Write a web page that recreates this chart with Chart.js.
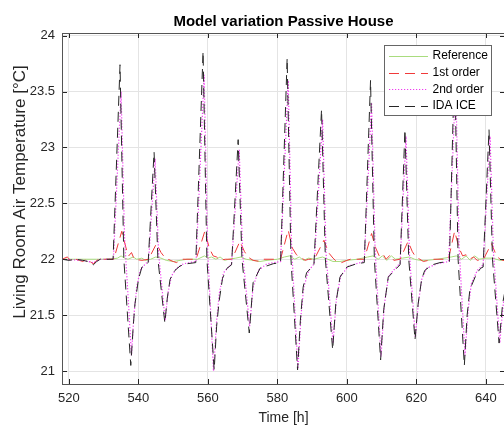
<!DOCTYPE html>
<html>
<head>
<meta charset="utf-8">
<script src="https://cdn.jsdelivr.net/npm/chart.js@4/dist/chart.umd.min.js"></script>
<style>
  html, body { margin: 0; padding: 0; background: #fff; overflow: hidden; width: 504px; height: 429px; }
  canvas { display: block; }
</style>
</head>
<body>
<canvas id="c" width="510" height="429"></canvas>
<script>
// Axis ticks
const xTicks = [520, 540, 560, 580, 600, 620, 640];
const yTicks = [21, 21.5, 22, 22.5, 23, 23.5, 24];

// Series names (legend order)
const seriesNames = ['Reference', '1st order', '2nd order', 'IDA ICE'];

// Reference model: living room air temperature [°C] vs time [h]
const refTime = [518,528,532,534,535,536,537,538.5,539.5,541,
  542,543.5,545,546.5,548,550,552,554,557,559,
  560,561,562.3,563.5,564.8,566,568,569.5,571,573,
  575,577,580,582,583.5,585,586.3,587.5,589,590.5,
  593,594.5,596,598,600,603,606,607.5,609,610.2,
  611.5,612.8,614,616,618,619.5,621,623,626,630,
  631.5,633,634.3,635.5,636.8,638,640,642,644,648];
const refTemp = [22.0,22.0,22.0,22.01,22.03,22.01,22.0,22.02,22.0,22.01,
  21.99,22.0,22.02,22.01,21.99,21.98,21.99,22.0,22.0,22.03,
  22.01,22.02,22.0,22.02,21.99,22.0,22.01,22.02,22.0,21.99,
  21.98,21.99,22.0,22.02,22.03,22.0,22.02,21.99,22.01,22.0,
  22.02,22.0,21.98,21.98,21.99,22.0,22.02,22.03,22.0,22.03,
  21.99,22.03,22.0,22.01,22.02,22.0,21.99,21.99,22.0,22.02,
  22.03,22.0,22.03,21.99,22.03,22.0,22.01,22.01,21.99,22.0];

// 1st order model
const firstTime = [518,519.5,520.5,522,523,524,525,526,527,528,529,532.9,535.2,536.6,537.2,538,538.8,541,542.9,
  545.2,546.5,547.5,548.5,550,551,552.5,556.6,
  559.1,560.4,561.5,562.5,563.5,565,566.9,
  569.2,570.5,571.5,573,575,576,580.9,
  583.1,584.3,585.5,586.5,588,589,590.6,
  593.4,594.7,596,597,598.5,600,601,605,
  607.1,608.3,609.3,610.3,611.3,612.5,613.5,615.3,
  617.6,618.8,619.8,621,622,623.5,625,629.2,
  631,632.3,633.3,634.3,635.3,636.5,637.5,639.3,
  641.6,642.8,644,646,648];
const firstTemp = [22.0,22.02,21.99,22.0,21.99,21.98,22.0,21.98,21.96,21.99,22.0,22.0,22.25,22.08,22.03,22.06,22.0,21.99,22.0,
  22.14,22.06,22.02,22.0,21.98,21.97,22.0,22.0,
  22.25,22.1,22.03,22.02,21.99,22.0,22.0,
  22.16,22.07,22.02,21.99,21.98,22.0,22.0,
  22.26,22.1,22.04,22.02,21.99,22.0,22.0,
  22.17,22.06,22.01,21.98,21.97,21.99,22.0,22.0,
  22.23,22.1,22.03,22.05,22.0,22.04,21.99,22.0,
  22.16,22.07,22.02,22.0,21.98,21.99,22.0,22.0,
  22.25,22.1,22.03,22.04,22.0,22.02,21.99,22.0,
  22.14,22.05,22.0,21.98,22.0];

// 2nd order model
const secondTime = [518,524,527,529,532.8,535.0,536.0,538.0,538.7,539.5,540.5,542,542.9,
  544.8,545.8,547.7,548.5,549.5,551,553,556.6,
  558.9,559.9,561.6,562.5,563.3,564.5,566.8,
  569.0,570.0,572.0,573,574.5,577,580.9,
  583.1,584.1,585.9,586.8,587.6,589,590.6,
  593.0,594.0,596.0,597,598.2,600.5,605,
  607.1,608.1,609.8,610.8,612,614.5,615.3,
  617.0,618,619.7,620.6,621.6,623,626,629.3,
  631.3,632.3,634.0,634.9,635.8,637.5,639.2,
  641.2,642.2,644.0,645,646,648];
const secondTemp = [22.0,21.99,21.97,22.0,22.0,23.5,22.2,21.14,21.5,21.75,21.9,21.96,21.98,
  22.9,22.05,21.45,21.7,21.85,21.92,21.96,21.98,
  23.65,22.1,21.0,21.45,21.7,21.88,21.96,
  22.98,22.05,21.4,21.75,21.9,21.96,21.98,
  23.6,22.1,21.02,21.5,21.75,21.9,21.96,
  23.25,22.05,21.25,21.65,21.85,21.94,21.98,
  23.4,22.1,21.13,21.6,21.85,21.94,21.96,
  23.1,22.05,21.3,21.62,21.83,21.92,21.96,21.98,
  23.6,22.1,21.14,21.55,21.78,21.9,21.95,
  23.1,22.05,21.25,21.6,21.78,21.9];

// IDA ICE simulation
const idaTime = [518,520,522,524,525.5,527,528,529,532.7,534.7,535.8,537.8,538.5,539,540,541,542.8,
  544.5,545.6,547.6,548.3,549.1,550.5,552,554,556.5,
  558.6,559.7,561.8,562.5,563.2,564.2,565.5,566.8,
  568.7,569.8,571.9,573.0,575,578.8,580.9,
  582.8,583.9,585.8,586.6,587.4,588.4,590.5,
  592.7,593.8,595.9,596.8,598,600,602.8,605,
  606.8,607.9,609.7,610.6,611.9,614.3,615.3,
  616.7,617.8,619.6,620.5,621.5,622.4,624.5,626.8,629.5,
  631,632,633.8,634.6,635.4,637.3,638.5,639.2,
  640.9,641.9,643.8,644.8,646,648];
const idaTemp = [22.0,21.99,22.0,21.99,21.98,21.95,21.98,22.0,22.0,23.74,22.0,21.05,21.4,21.6,21.82,21.93,21.97,
  22.96,22.0,21.43,21.65,21.82,21.9,21.94,21.96,21.97,
  23.86,22.0,21.01,21.4,21.62,21.83,21.92,21.95,
  23.07,22.0,21.34,21.79,21.92,21.96,21.97,
  23.80,22.0,21.01,21.45,21.75,21.88,21.95,
  23.34,22.0,21.19,21.6,21.84,21.93,21.96,21.97,
  23.60,22.0,21.10,21.55,21.84,21.92,21.95,
  23.16,22.0,21.28,21.6,21.82,21.9,21.95,21.97,21.98,
  23.8,22.0,21.05,21.5,21.73,21.87,21.92,21.93,
  23.16,22.0,21.25,21.6,21.8,21.9];

const FONT = '"Liberation Sans", Arial, Helvetica, sans-serif';
const AXIS_COLOR = '#262626';
const TITLE = 'Model variation Passive House';
const Y_LABEL = 'Living Room Air Temperature [°C]';

function points(t, v) {
  return t.map((x, i) => ({ x: x, y: v[i] }));
}

function lineSet(label, t, v, color, dash, width, order) {
  return {
    label: label,
    data: points(t, v),
    borderColor: color,
    borderWidth: width,
    borderDash: dash,
    borderCapStyle: 'butt',
    pointRadius: 0,
    tension: 0,
    fill: false,
    order: order
  };
}

// Inward tick marks and the axes box
const axesBox = {
  id: 'axesBox',
  afterDatasetsDraw(chart) {
    const { ctx, chartArea: a, scales: { x, y } } = chart;
    const len = 5;
    ctx.save();
    ctx.strokeStyle = AXIS_COLOR;
    ctx.lineWidth = 1;
    ctx.beginPath();
    xTicks.forEach(v => {
      const px = Math.round(x.getPixelForValue(v)) + 0.5;
      ctx.moveTo(px, a.bottom); ctx.lineTo(px, a.bottom - len);
      ctx.moveTo(px, a.top); ctx.lineTo(px, a.top + len);
    });
    yTicks.forEach(v => {
      const py = Math.round(y.getPixelForValue(v)) + 0.5;
      ctx.moveTo(a.left, py); ctx.lineTo(a.left + len, py);
      ctx.moveTo(a.right, py); ctx.lineTo(a.right - len, py);
    });
    ctx.stroke();
    ctx.strokeStyle = '#555';
    ctx.strokeRect(Math.round(a.left) + 0.5, Math.round(a.top) + 0.5,
      Math.round(a.right - a.left), Math.round(a.bottom - a.top));
    ctx.restore();
  }
};

// Title centred over the axes and the vertical axis label
const axesText = {
  id: 'axesText',
  afterDraw(chart) {
    const { ctx, chartArea: a } = chart;
    ctx.save();
    ctx.fillStyle = '#000';
    ctx.textAlign = 'center';
    ctx.textBaseline = 'middle';
    ctx.font = 'bold 15px ' + FONT;
    ctx.fillText(TITLE, (a.left + a.right) / 2, 22);
    ctx.fillStyle = AXIS_COLOR;
    ctx.font = '17px ' + FONT;
    ctx.translate(20, 192);
    ctx.rotate(-Math.PI / 2);
    ctx.fillText(Y_LABEL, 0, 0);
    ctx.restore();
  }
};

// Legend box in the upper right corner of the axes
const insideLegend = {
  id: 'insideLegend',
  afterDraw(chart) {
    const { ctx } = chart;
    const box = { x: 384.5, y: 45.5, w: 107, h: 70 };
    ctx.save();
    ctx.fillStyle = '#fff';
    ctx.fillRect(box.x, box.y, box.w, box.h);
    ctx.strokeStyle = '#666';
    ctx.lineWidth = 1;
    ctx.strokeRect(box.x, box.y, box.w, box.h);
    ctx.font = '12px ' + FONT;
    ctx.textBaseline = 'middle';
    ctx.textAlign = 'left';
    seriesNames.forEach((name, i) => {
      const ds = chart.data.datasets.find(d => d.label === name);
      const yy = 56 + i * 16.6;
      ctx.strokeStyle = ds.borderColor;
      ctx.lineWidth = ds.borderWidth;
      ctx.setLineDash(ds.borderDash || []);
      ctx.beginPath();
      ctx.moveTo(389, Math.round(yy) + 0.5);
      ctx.lineTo(428, Math.round(yy) + 0.5);
      ctx.stroke();
      ctx.setLineDash([]);
      ctx.fillStyle = '#000';
      ctx.fillText(name, 432.5, yy);
    });
    ctx.restore();
  }
};

new Chart(document.getElementById('c'), {
  type: 'line',
  data: {
    datasets: [
      lineSet(seriesNames[0], refTime, refTemp, '#a9dc7e', [], 1, 4),
      lineSet(seriesNames[1], firstTime, firstTemp, '#f03a3a', [10, 6], 1, 3),
      lineSet(seriesNames[2], secondTime, secondTemp, '#f03cf0', [1.2, 1.8], 1.2, 2),
      lineSet(seriesNames[3], idaTime, idaTemp, '#262626', [10, 6], 1, 1)
    ]
  },
  options: {
    responsive: false,
    animation: false,
    devicePixelRatio: 1,
    layout: { padding: { left: 0, right: 5, top: 33, bottom: 0 } },
    plugins: {
      legend: { display: false },
      tooltip: { enabled: false },
      title: { display: false }
    },
    scales: {
      x: {
        type: 'linear',
        min: 518,
        max: 645.5,
        afterBuildTicks: s => { s.ticks = xTicks.map(v => ({ value: v })); },
        afterFit: s => { s.height = 45; },
        ticks: {
          includeBounds: false,
          padding: 7,
          color: AXIS_COLOR,
          font: { family: FONT, size: 13 },
          maxRotation: 0,
          callback: v => String(v)
        },
        grid: { color: '#e4e4e4', lineWidth: 1, drawTicks: false },
        border: { display: false },
        title: {
          display: true,
          text: 'Time [h]',
          color: AXIS_COLOR,
          font: { family: FONT, size: 14 },
          padding: { top: 0, bottom: 2.6 }
        }
      },
      y: {
        type: 'linear',
        min: 20.884,
        max: 24.024,
        afterBuildTicks: s => { s.ticks = yTicks.map(v => ({ value: v })); },
        afterFit: s => { s.width = 62; },
        ticks: {
          includeBounds: false,
          padding: 7,
          color: AXIS_COLOR,
          font: { family: FONT, size: 13 },
          callback: v => String(v)
        },
        grid: { color: '#e4e4e4', lineWidth: 1, drawTicks: false },
        border: { display: false },
        title: { display: false }
      }
    }
  },
  plugins: [axesBox, axesText, insideLegend]
});
</script>
</body>
</html>
